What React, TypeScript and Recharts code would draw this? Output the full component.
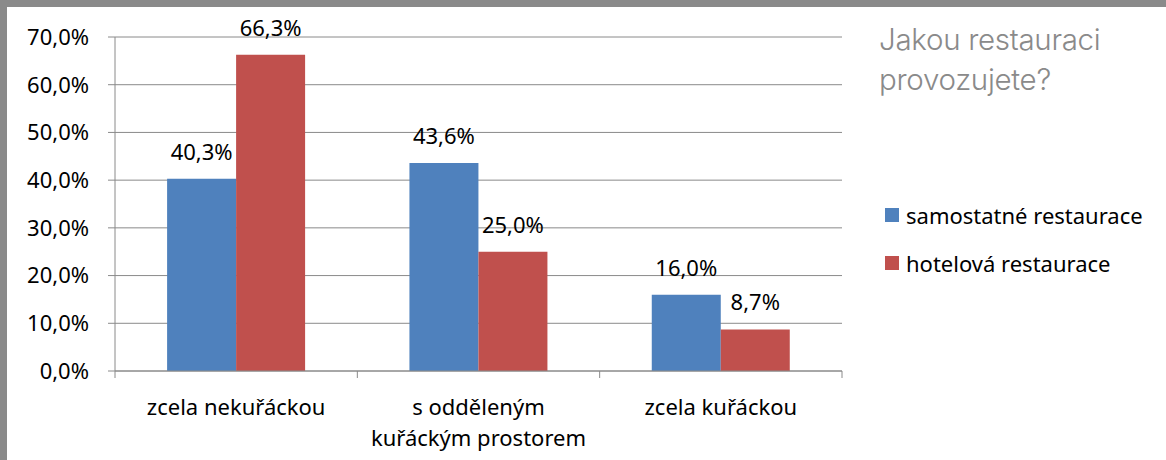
import React from 'react';
import { BarChart, Bar, XAxis, YAxis, CartesianGrid, LabelList, Legend } from 'recharts';

// Jakou restauraci provozujete? – kouření v restauracích
const categories = ['zcela nekuřáckou', 's odděleným\nkuřáckým prostorem', 'zcela kuřáckou'];
const samostatne = [40.3, 43.6, 16.0];
const hotelova = [66.3, 25.0, 8.7];
const yTicks = [0, 10, 20, 30, 40, 50, 60, 70];
const seriesNames = ['samostatné restaurace', 'hotelová restaurace'];
const seriesColors = ['#4F81BD', '#C0504D'];
const titleLines = ['Jakou restauraci', 'provozujete?'];

const data = categories.map((name, i) => ({ name, s: samostatne[i], h: hotelova[i] }));

const FONT = '"Noto Sans", sans-serif';
const GRAY = '#8a8a8a';
const PLOT_WIDTH = 727;
const step = PLOT_WIDTH / categories.length;

const pct = (v: number) => `${Number(v).toFixed(1).replace('.', ',')}%`;

function CategoryTick(props: any) {
  const { x, y, payload, index } = props;
  const lines = String(payload.value).split('\n');
  return (
    <g>
      <line x1={x - step / 2} x2={x - step / 2} y1={y} y2={y + 7} stroke={GRAY} />
      {index === categories.length - 1 && (
        <line x1={x + step / 2} x2={x + step / 2} y1={y} y2={y + 7} stroke={GRAY} />
      )}
      <text x={x} y={y} textAnchor="middle" fontSize={22} fontFamily={FONT} fill="#000">
        {lines.map((l, i) => (
          <tspan key={i} x={x} dy={i === 0 ? 44 : 31}>{l}</tspan>
        ))}
      </text>
    </g>
  );
}

const renderLegend = () => (
  <div>
    {seriesNames.map((n, i) => (
      <div key={n} style={{ display: 'flex', alignItems: 'center', height: 48 }}>
        <span style={{ width: 14, height: 14, background: seriesColors[i], marginRight: 7, flex: 'none' }} />
        <span style={{ fontSize: 22, fontFamily: FONT, color: '#000', lineHeight: '48px', whiteSpace: 'nowrap' }}>{n}</span>
      </div>
    ))}
  </div>
);

export default function App() {
  return (
    <div style={{ position: 'absolute', left: 0, top: 0, width: 1166, height: 460, background: '#fff', overflow: 'hidden' }}>
      <div style={{ position: 'absolute', left: 0, top: 0, width: 1166, height: 7, background: GRAY }} />
      <div style={{ position: 'absolute', left: 0, top: 0, width: 7, height: 460, background: GRAY }} />
      <div style={{ position: 'absolute', left: 0, top: 0 }}>
        <BarChart
          width={1166}
          height={460}
          data={data}
          margin={{ top: 37, right: 324, bottom: 0, left: 0 }}
          barCategoryGap="21.5%"
          barGap={0}
        >
          <CartesianGrid vertical={false} stroke={GRAY} />
          <YAxis
            width={115}
            domain={[0, 70]}
            ticks={yTicks}
            tickFormatter={pct}
            tick={{ fontSize: 22, fontFamily: FONT, fill: '#000' }}
            tickSize={7}
            tickMargin={19}
            tickLine={{ stroke: GRAY }}
            axisLine={{ stroke: GRAY }}
            interval={0}
          />
          <XAxis
            dataKey="name"
            height={89}
            tick={<CategoryTick />}
            tickSize={0}
            tickMargin={0}
            tickLine={false}
            axisLine={{ stroke: GRAY }}
            interval={0}
          />
          <Legend
            layout="vertical"
            align="center"
            verticalAlign="middle"
            content={renderLegend}
            wrapperStyle={{ position: 'absolute', left: 885, top: 191, width: 280 }}
          />
          <Bar dataKey="s" name={seriesNames[0]} fill={seriesColors[0]} isAnimationActive={false}>
            <LabelList dataKey="s" position="top" offset={19} formatter={pct} fontSize={22} fontFamily={FONT} fill="#000" />
          </Bar>
          <Bar dataKey="h" name={seriesNames[1]} fill={seriesColors[1]} isAnimationActive={false}>
            <LabelList dataKey="h" position="top" offset={19} formatter={pct} fontSize={22} fontFamily={FONT} fill="#000" />
          </Bar>
        </BarChart>
      </div>
      <div
        style={{
          position: 'absolute',
          left: 879,
          top: 19,
          fontFamily: 'Inter, sans-serif',
          fontWeight: 300,
          fontSize: 29.5,
          lineHeight: '40px',
          color: GRAY,
          letterSpacing: -0.3,
          whiteSpace: 'nowrap',
        }}
      >
        {titleLines.map((l) => (
          <div key={l}>{l}</div>
        ))}
      </div>
    </div>
  );
}
